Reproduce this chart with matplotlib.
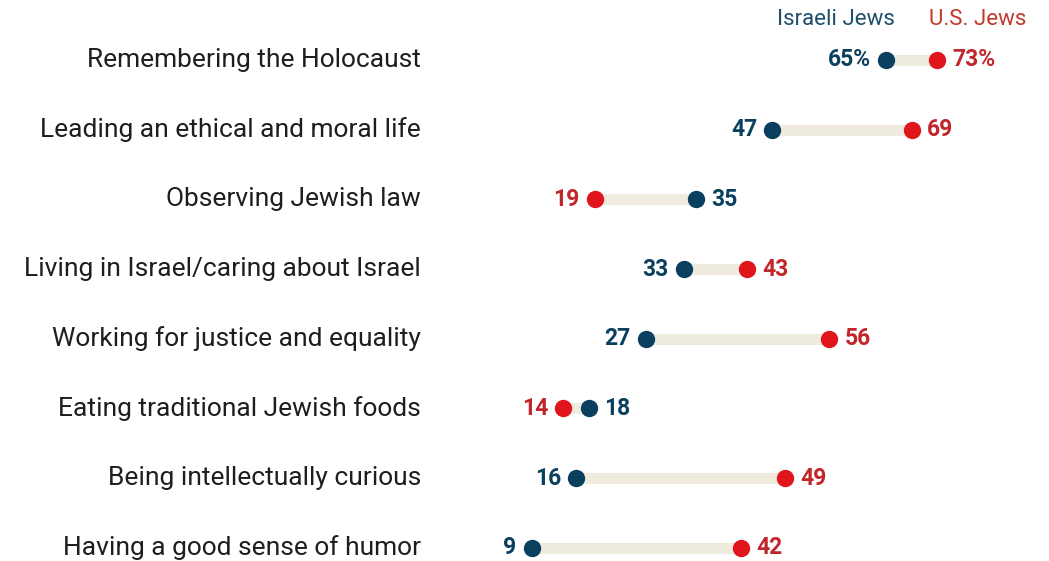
# Dumbbell chart: what is essential to being Jewish, Israeli vs U.S. Jews

import matplotlib.pyplot as plt

plt.rcParams["font.family"] = ["Roboto", "DejaVu Sans"]

categories = [
    "Remembering the Holocaust",
    "Leading an ethical and moral life",
    "Observing Jewish law",
    "Living in Israel/caring about Israel",
    "Working for justice and equality",
    "Eating traditional Jewish foods",
    "Being intellectually curious",
    "Having a good sense of humor",
]
israeli = [65, 47, 35, 33, 27, 18, 16, 9]
us = [73, 69, 19, 43, 56, 14, 49, 42]

blue = "#0b3f5e"
red = "#e0161c"
red_text = "#c0262a"
track = "#efebdf"

fig = plt.figure(figsize=(10.49, 5.61), dpi=100)
ax = fig.add_axes([0, 0, 1, 1])
ax.set_xlim(-75.0, 90.7)
ax.set_ylim(7.19, -0.86)
ax.axis("off")

for i, (cat, a, b) in enumerate(zip(categories, israeli, us)):
    ax.plot([a, b], [i, i], color=track, lw=8, solid_capstyle="butt", zorder=1)
    ax.plot(a, i, "o", color=blue, ms=12.5, zorder=3, mec="none")
    ax.plot(b, i, "o", color=red, ms=12.5, zorder=3, mec="none")
    ax.text(-8.5, i, cat, ha="right", va="center", fontsize=19, color="#1e1e1e")
    suffix = "%" if i == 0 else ""
    for v, col, other in ((a, blue, b), (b, red_text, a)):
        left = v < other or (v == other and col == blue)
        ax.annotate(f"{v}{suffix}", (v, i), xytext=(-11 if left else 11, 0),
                    textcoords="offset points", ha="right" if left else "left",
                    va="center", fontsize=16.5, fontweight="bold", color=col)

ax.text(israeli[0] - 8, -0.58, "Israeli Jews", ha="center", va="center",
        fontsize=16, color="#1f4e6b")
ax.text(us[0] + 6.5, -0.58, "U.S. Jews", ha="center", va="center",
        fontsize=16, color="#c0392b")

fig.savefig("out.png", dpi=100)
